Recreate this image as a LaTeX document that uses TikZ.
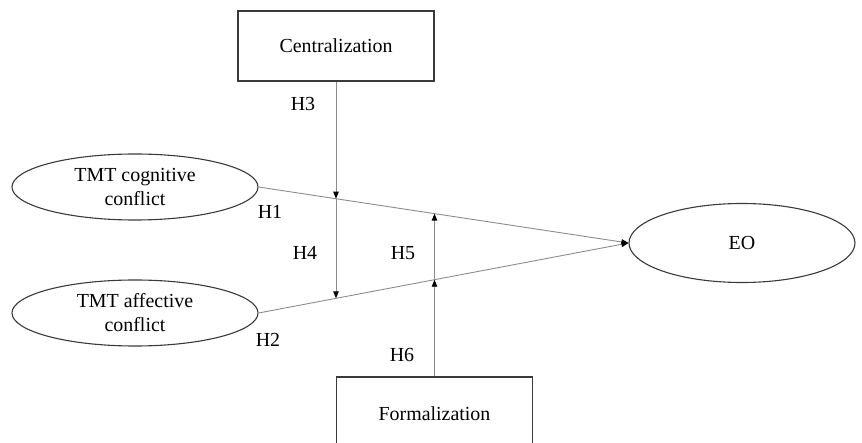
\documentclass[tikz,border=0pt]{standalone}
\usepackage{fontspec}
\setmainfont{Liberation Serif}
\usetikzlibrary{shapes.geometric,arrows.meta,intersections}
\definecolor{edgegray}{HTML}{3A3A3A}
\definecolor{linegray}{HTML}{8C8C8C}
\begin{document}
\begin{tikzpicture}[x=1bp,y=-1bp,
  every node/.style={font=\fontsize{20}{24}\selectfont, text=black},
  boxnode/.style={draw=edgegray, line width=1.1bp, rectangle, minimum width=196bp, minimum height=70bp, inner sep=0pt},
  ellnode/.style={draw=edgegray, line width=1.1bp, ellipse, inner sep=0pt, align=center},
  conn/.style={draw=linegray, line width=0.9bp},
  arr/.style={conn, -{Triangle[length=7bp,width=5.5bp,fill=black,color=black]}},
  lbl/.style={inner sep=0pt}
]
\useasboundingbox (0,0) rectangle (862,443);
\node[boxnode] (cen) at (336,46) {Centralization};
\node[boxnode, minimum height=74bp] (frm) at (434.5,414) {Formalization};
\node[ellnode, minimum width=246bp, minimum height=66bp] (cog) at (135,187) {TMT cognitive\\conflict};
\node[ellnode, minimum width=246bp, minimum height=66bp] (aff) at (135,313) {TMT affective\\conflict};
\node[ellnode, minimum width=226bp, minimum height=79bp] (eo) at (742,243) {EO};

\draw[arr, name path=l1] (cog.east) -- (eo.west);
\draw[arr, name path=l2] (aff.east) -- (eo.west);

\path[name path=v1] (cen.south) -- ++(0,400);
\path[name path=v2] (frm.north) -- ++(0,-400);
\path[name intersections={of=v1 and l1, by=i1}];
\path[name intersections={of=v1 and l2, by=i2}];
\path[name intersections={of=v2 and l1, by=j1}];
\path[name intersections={of=v2 and l2, by=j2}];

\draw[arr] (cen.south) -- (i1);
\draw[arr] (i1) -- (i2);
\draw[arr] (frm.north) -- (j2);
\draw[arr] (j2) -- (j1);

\node[lbl] (h1) at (270,212) {H1};
\node[lbl] (h2) at (268,340) {H2};
\node[lbl] (h3) at (303,104) {H3};
\node[lbl] (h4) at (305,253) {H4};
\node[lbl] (h5) at (403,253) {H5};
\node[lbl] (h6) at (402,355) {H6};
\end{tikzpicture}
\end{document}
